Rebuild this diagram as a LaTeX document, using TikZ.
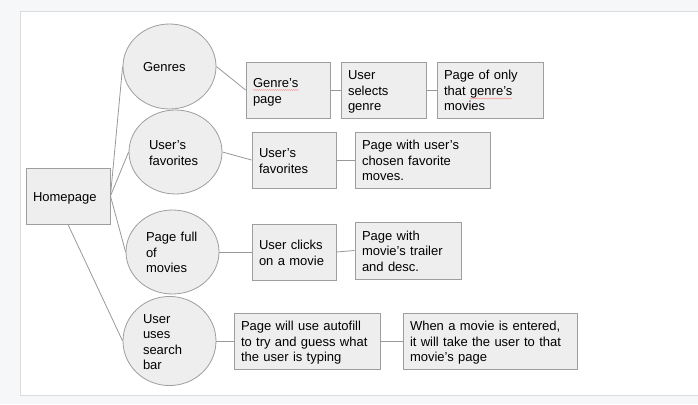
\documentclass[tikz,border=0pt]{standalone}
\usepackage{fontspec}
\setmainfont{Liberation Sans}
\usetikzlibrary{shapes.geometric,decorations.pathmorphing}
\definecolor{boxfill}{HTML}{EEEEEE}
\definecolor{boxline}{HTML}{9E9E9E}
\definecolor{wire}{HTML}{999999}
\definecolor{pageback}{HTML}{F6F7F9}
\definecolor{pageedge}{HTML}{DADCE0}
\tikzset{
  pagebox/.style={rectangle,draw=boxline,fill=boxfill,line width=0.9pt,
    minimum height=56pt,inner xsep=7pt,inner ysep=0pt,align=left,
    font=\fontsize{13}{15.5}\selectfont,
    execute at begin node={\rule{0pt}{13.5pt}},
    execute at end node={\rule[-3pt]{0pt}{3pt}}},
  bubble/.style={ellipse,draw=boxline,fill=boxfill,line width=0.8pt,
    minimum width=93pt,minimum height=84pt,inner sep=0pt,text width=53pt,
    align=left,font=\fontsize{13}{15.5}\selectfont,
    execute at begin node={\rule{0pt}{13.5pt}},
    execute at end node={\rule[-3pt]{0pt}{3pt}}},
  link/.style={draw=wire,line width=0.8pt},
  squiggle/.style={red!45,line width=0.4pt,decorate,
    decoration={snake,amplitude=0.5pt,segment length=2pt}}
}
\begin{document}
\begin{tikzpicture}[x=1pt,y=-1pt]
            % Page
            \useasboundingbox (0,0) rectangle (698,404);
            \fill[pageback] (0,0) rectangle (698,404);
            \draw[pageedge,fill=white,line width=1pt] (20.5,11.5) rectangle (710,395);
            % Homepage
            \node[pagebox,text width=70pt] (home) at (68,196) {Homepage};
            % Sections
            \node[bubble,minimum height=85pt] (genres) at (169.5,66.5) {Genres};
            \node[bubble] (favs) at (175.5,152) {User’s\\favorites};
            \node[bubble] (movies) at (172.5,252) {Page full\\of\\movies};
            \node[bubble] (search) at (169.5,341) {User\\uses\\search\\bar};
            % Genres row
            \node[pagebox,text width=70pt] (genrepage) at (288,90) {Genre’s\\page};
            \node[pagebox,text width=71pt] (selects) at (383.5,90) {User\\selects\\genre};
            \node[pagebox,text width=92pt] (onlygenre) at (490,90) {Page of only\\that genre’s\\movies};
            % Favorites row
            \node[pagebox,text width=70pt] (favbox) at (294,160) {User’s\\favorites};
            \node[pagebox,text width=121pt] (favpage) at (422.5,160) {Page with user’s\\chosen favorite\\moves.};
            % Movies row
            \node[pagebox,text width=70pt] (clicks) at (294,252) {User clicks\\on a movie};
            \node[pagebox,text width=92pt,minimum height=57pt] (trailer) at (408,250.5) {Page with\\movie’s trailer\\and desc.};
            % Search row
            \node[pagebox,text width=132pt] (autofill) at (307,341) {Page will use autofill\\to try and guess what\\the user is typing};
            \node[pagebox,text width=160pt] (entered) at (490,341) {When a movie is entered,\\it will take the user to that\\movie’s page};
            % Links
            \draw[link] (home.east) -- (genres.west);
            \draw[link] (home.east) -- (favs.west);
            \draw[link] (home.east) -- (movies.west);
            \draw[link] (home.south) -- (search.west);
            \draw[link] (genres.east) -- (genrepage.west);
            \draw[link] (genrepage.east) -- (selects.west);
            \draw[link] (selects.east) -- (onlygenre.west);
            \draw[link] (favs.east) -- (favbox.west);
            \draw[link] (favbox.east) -- (favpage.west);
            \draw[link] (movies.east) -- (clicks.west);
            \draw[link] (clicks.east) -- (trailer.west);
            \draw[link] (search.east) -- (autofill.west);
            \draw[link] (autofill.east) -- (entered.west);
            % Spell check marks
            \draw[squiggle] (253,90) -- (299,90);
            \draw[squiggle] (470,98.5) -- (512,98.5);
           \end{tikzpicture}
\end{document}
